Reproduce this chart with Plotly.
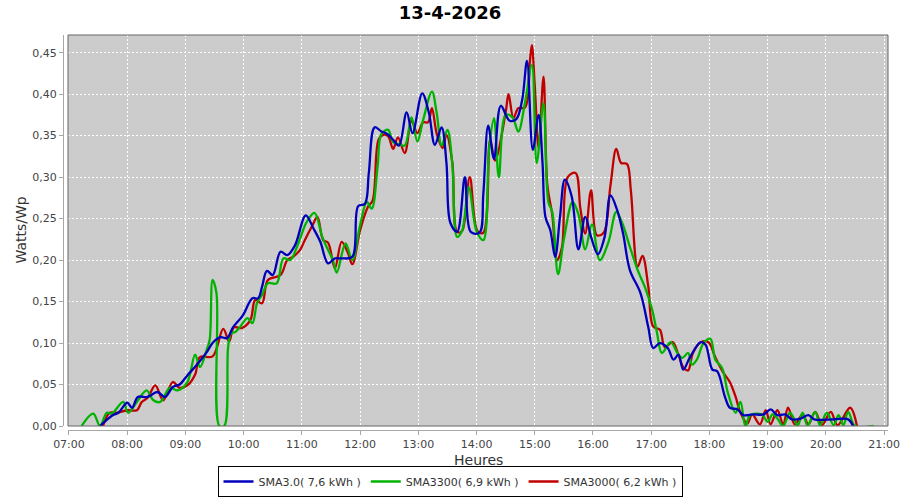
import plotly.graph_objects as go

DATE = "2026-04-13"

# ---- SMA3.0 (blue) ----
blue_t = ["07:32","07:45","07:51","08:00","08:05","08:11","08:21","08:31","08:39","08:47","08:54",
          "09:02","09:12","09:22","09:28","09:36","09:43","09:49","09:59","10:09","10:15","10:19",
          "10:24","10:30","10:38","10:45","10:53","11:04","11:12","11:19","11:27","11:34","11:41",
          "11:52","11:58","12:05","12:09","12:15","12:22","12:28","12:34","12:40","12:48","12:54",
          "13:04","13:11","13:17","13:24","13:29","13:33","13:40","13:48","13:54","14:03","14:07",
          "14:12","14:18","14:25","14:34","14:41","14:47","14:52","14:58","15:04","15:08","15:11",
          "15:16","15:21","15:26","15:31","15:38","15:45","15:52","15:58","16:05","16:12","16:18",
          "16:25","16:31","16:38","16:49","16:57","17:02","17:09","17:17","17:23","17:28","17:33",
          "17:40","17:51","17:56","18:03","18:08","18:16","18:21","18:29","18:35","18:45","18:56",
          "19:03","19:10","19:18","19:25","19:34","19:42","19:48","20:08","20:23","20:28"]
blue_v = [0.000,0.013,0.016,0.028,0.022,0.035,0.035,0.041,0.035,0.047,0.050,
          0.061,0.074,0.089,0.100,0.107,0.106,0.119,0.133,0.154,0.154,0.168,
          0.187,0.182,0.210,0.206,0.218,0.254,0.238,0.222,0.196,0.202,0.202,
          0.204,0.265,0.268,0.305,0.360,0.355,0.352,0.345,0.338,0.378,0.353,
          0.401,0.377,0.339,0.360,0.317,0.245,0.234,0.300,0.234,0.233,0.280,
          0.362,0.322,0.386,0.368,0.370,0.393,0.440,0.333,0.375,0.317,0.252,
          0.236,0.204,0.252,0.297,0.277,0.213,0.252,0.228,0.207,0.228,0.278,
          0.260,0.232,0.188,0.160,0.119,0.094,0.100,0.094,0.080,0.086,0.068,
          0.083,0.101,0.098,0.068,0.066,0.035,0.022,0.020,0.013,0.014,0.014,
          0.020,0.013,0.014,0.008,0.009,0.013,0.008,0.008,0.008,0.000]

# ---- SMA3300 (green) ----
green_t = ["07:13","07:25","07:32","07:39","07:44","07:56","08:01","08:10","08:20","08:27","08:34",
           "08:44","08:52","09:02","09:10","09:15","09:22","09:25","09:28","09:32","09:35","09:40",
           "09:44","09:47","09:51","09:56","10:04","10:09","10:14","10:19","10:25","10:34","10:41",
           "10:48","10:55","11:05","11:13","11:21","11:27","11:32","11:36","11:45","11:52","12:00",
           "12:07","12:12","12:18","12:22","12:29","12:34","12:40","12:46","12:53","12:59","13:05",
           "13:14","13:19","13:24","13:30","13:35","13:40","13:45","13:52","14:00","14:07","14:13",
           "14:18","14:23","14:30","14:37","14:43","14:50","14:57","15:02","15:09","15:14","15:18",
           "15:24","15:30","15:39","15:45","15:52","15:59","16:07","16:16","16:24","16:30","16:38",
           "16:46","16:54","17:01","17:06","17:11","17:20","17:27","17:32","17:38","17:42","17:47",
           "17:54","18:01","18:06","18:13","18:19","18:27","18:32","18:37","18:42","18:54","19:00",
           "19:05","19:10","19:16","19:23","19:31","19:36","19:41","19:49","19:54","20:01","20:08",
           "20:13","20:18","20:23","20:30","20:49"]
green_v = [0.000,0.015,0.000,0.016,0.015,0.029,0.016,0.029,0.043,0.031,0.029,
           0.046,0.043,0.053,0.086,0.071,0.092,0.104,0.176,0.160,0.000,0.000,
           0.095,0.112,0.113,0.119,0.130,0.124,0.149,0.158,0.172,0.172,0.202,
           0.200,0.216,0.246,0.257,0.228,0.212,0.200,0.185,0.220,0.200,0.242,
           0.270,0.262,0.312,0.352,0.357,0.342,0.340,0.338,0.372,0.343,0.369,
           0.403,0.377,0.338,0.357,0.316,0.228,0.235,0.288,0.235,0.224,0.335,
           0.371,0.300,0.375,0.372,0.355,0.390,0.435,0.317,0.389,0.270,0.258,
           0.183,0.225,0.270,0.255,0.213,0.243,0.200,0.222,0.258,0.245,0.216,
           0.188,0.166,0.140,0.112,0.088,0.101,0.088,0.082,0.088,0.074,0.080,
           0.100,0.105,0.080,0.070,0.040,0.016,0.029,0.000,0.013,0.014,0.005,
           0.014,0.009,0.000,0.016,0.001,0.016,0.001,0.017,0.001,0.016,0.001,
           0.013,0.001,0.017,0.000,0.000]

# ---- SMA3000 (red) ----
red_t = ["07:35","07:42","07:49","08:00","08:10","08:15","08:21","08:29","08:37","08:47","08:54",
         "09:03","09:10","09:15","09:28","09:39","09:45","09:50","09:58","10:07","10:12","10:19",
         "10:25","10:38","10:45","10:51","10:58","11:03","11:11","11:16","11:22","11:27","11:34",
         "11:41","11:47","11:52","12:00","12:08","12:13","12:19","12:24","12:29","12:34","12:39",
         "12:46","12:53","12:59","13:05","13:10","13:14","13:19","13:25","13:29","13:35","13:40",
         "13:45","13:53","14:01","14:07","14:14","14:19","14:30","14:33","14:38","14:43","14:50",
         "14:55","14:57","15:00","15:04","15:09","15:13","15:18","15:23","15:28","15:34","15:42",
         "15:47","15:52","15:58","16:04","16:11","16:18","16:24","16:29","16:35","16:39","16:46",
         "16:51","16:57","17:02","17:09","17:14","17:22","17:28","17:33","17:38","17:43","17:51",
         "17:59","18:06","18:14","18:21","18:27","18:32","18:39","18:44","18:52","18:58","19:03",
         "19:10","19:16","19:21","19:28","19:36","19:42","19:49","19:56","20:05","20:12","20:25",
         "20:32"]
red_v = [0.000,0.016,0.016,0.019,0.019,0.029,0.034,0.049,0.031,0.053,0.046,
         0.050,0.062,0.083,0.084,0.117,0.102,0.119,0.118,0.128,0.152,0.148,
         0.176,0.182,0.200,0.204,0.212,0.224,0.242,0.252,0.224,0.221,0.190,
         0.222,0.210,0.195,0.236,0.264,0.272,0.345,0.351,0.349,0.334,0.348,
         0.329,0.368,0.353,0.366,0.366,0.383,0.352,0.335,0.351,0.318,0.234,
         0.235,0.300,0.235,0.233,0.345,0.320,0.378,0.400,0.371,0.383,0.384,
         0.440,0.459,0.410,0.335,0.421,0.290,0.255,0.200,0.215,0.300,0.305,
         0.262,0.232,0.284,0.230,0.233,0.290,0.334,0.317,0.316,0.284,0.192,
         0.205,0.168,0.120,0.116,0.095,0.101,0.086,0.071,0.067,0.088,0.101,
         0.101,0.083,0.065,0.053,0.035,0.016,0.003,0.014,0.002,0.019,0.002,
         0.019,0.002,0.022,0.002,0.014,0.002,0.017,0.001,0.017,0.001,0.022,
         0.000]

names = ["SMA3.0( 7,6 kWh )", "SMA3300( 6,9 kWh )", "SMA3000( 6,2 kWh )"]
colors = ["#0000bb", "#00b300", "#c00000"]
x_range = [f"{DATE} 06:59", f"{DATE} 21:04"]
y_range = [0, 0.4713]

series = [(names[0], blue_t, blue_v, colors[0], 1),
          (names[1], green_t, green_v, colors[1], 2),
          (names[2], red_t, red_v, colors[2], 3)]

fig = go.Figure()
for name, ts, vs, col, rank in reversed(series):
    fig.add_trace(go.Scatter(
        x=[f"{DATE} {t}" for t in ts], y=vs, mode="lines", name=name,
        line=dict(color=col, width=2.3, shape="spline", smoothing=1.0),
        legendrank=rank))

tickfont = dict(family="DejaVu Sans", size=11, color="#444444")
fig.update_layout(
    width=900, height=500,
    margin=dict(l=63, r=12, t=35, b=70),
    paper_bgcolor="white", plot_bgcolor="#cccccc",
    separators=", ",
    font=dict(family="DejaVu Sans", color="#333333"),
    title=dict(text="<b>13-4-2026</b>", x=0.5, xref="container", xanchor="center",
               y=1 - 13/500, yref="container", yanchor="middle",
               font=dict(family="DejaVu Sans", size=18, color="black")),
    xaxis=dict(type="date", range=x_range, domain=[5/825, 1], anchor="free", position=0,
               automargin=False,
               showline=True, linecolor="#a8a8a8", linewidth=1,
               ticks="outside", ticklen=4, tickcolor="#a8a8a8",
               tickformat="%H:%M", dtick=3600000, tick0=f"{DATE} 07:00",
               showgrid=True, gridcolor="white", griddash="2px,2px", gridwidth=1,
               tickfont=tickfont, zeroline=False, fixedrange=True),
    yaxis=dict(range=y_range, domain=[4/395, 1], anchor="free", position=0,
               automargin=False,
               showline=True, linecolor="#a8a8a8", linewidth=1,
               ticks="outside", ticklen=4, tickcolor="#a8a8a8",
               dtick=0.05, tick0=0, tickformat=".2f",
               showgrid=True, gridcolor="white", griddash="2px,2px", gridwidth=1,
               tickfont=tickfont, zeroline=False, fixedrange=True),
    legend=dict(orientation="h", x=0.5, xanchor="center", xref="container",
                y=3/500, yanchor="bottom", yref="container",
                bgcolor="white", bordercolor="black", borderwidth=1,
                font=dict(family="DejaVu Sans", size=11, color="#333333"),
                traceorder="normal", itemwidth=30),
    showlegend=True,
)

fig.add_shape(type="rect", xref="x domain", yref="y domain", x0=0, x1=1, y0=0, y1=1,
              line=dict(color="#666666", width=1), fillcolor="rgba(0,0,0,0)", layer="above")

fig.add_annotation(text="Heures", xref="x domain", x=0.5, yref="paper", y=0,
                   yshift=-30, showarrow=False, xanchor="center", yanchor="middle",
                   font=dict(family="DejaVu Sans", size=14, color="#333333"))
fig.add_annotation(text="Watts/Wp", xref="paper", x=0, xshift=-43, yref="y domain", y=0.5,
                   textangle=-90, showarrow=False, xanchor="center", yanchor="middle",
                   font=dict(family="DejaVu Sans", size=14, color="#333333"))

fig.write_html("out.html", config={"displayModeBar": False},
               post_script="document.body.style.margin='0';")
